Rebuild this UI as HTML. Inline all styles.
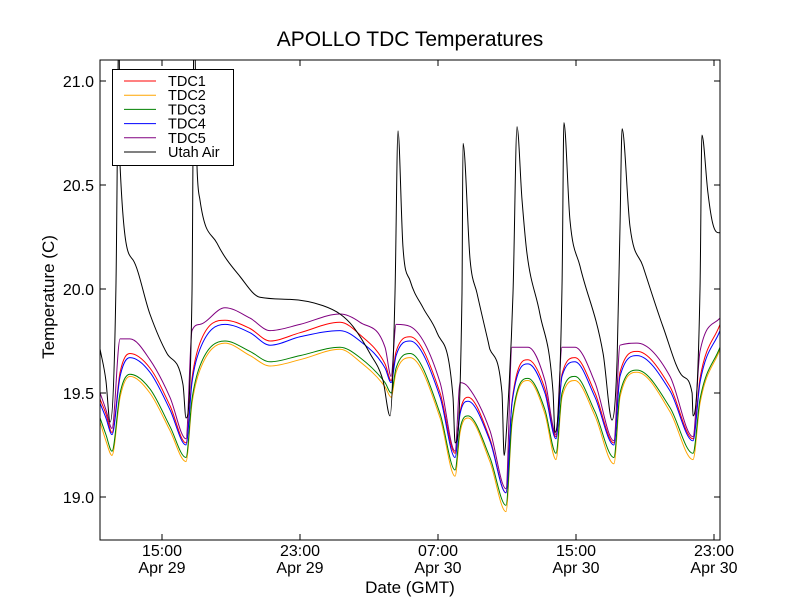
<!DOCTYPE html>
<html><head><meta charset="utf-8"><style>
body{margin:0;background:#fff;}
svg{display:block;font-family:"Liberation Sans","DejaVu Sans",sans-serif;}
</style></head><body>
<svg id="chart" width="800" height="600">
<rect width="800" height="600" fill="#fff"/>
<defs><clipPath id="clip"><rect x="100" y="60" width="620" height="480"/></clipPath></defs>
<text x="410" y="46" text-anchor="middle" font-size="21">APOLLO TDC Temperatures</text>
<g id="plot" clip-path="url(#clip)"></g>
<g id="axes"></g>
<rect x="100" y="60" width="620" height="480" fill="none" stroke="#000" stroke-width="1"/>
<text x="410" y="593" text-anchor="middle" font-size="17">Date (GMT)</text>
<text x="54" y="297" text-anchor="middle" font-size="17" transform="rotate(-90 54 297)">Temperature (C)</text>
<g id="legend"></g>
</svg>
<script>
const times=[11.41,11.75,12.10,12.57,13.14,14.30,15.46,16.39,16.74,17.20,18.65,20.10,21.26,23.00,25.32,26.48,27.93,28.28,28.57,29.38,31.12,31.99,32.28,32.74,34.01,34.94,35.29,36.22,37.20,37.84,38.19,38.94,40.10,41.20,41.55,42.54,44.45,45.78,46.19,47.35];
const tdc1=[19.47,19.40,19.31,19.60,19.69,19.62,19.44,19.26,19.57,19.74,19.85,19.81,19.75,19.79,19.84,19.78,19.64,19.56,19.70,19.77,19.50,19.21,19.41,19.48,19.28,19.02,19.46,19.66,19.52,19.29,19.59,19.67,19.50,19.26,19.60,19.70,19.53,19.28,19.57,19.83];
const tdc2=[19.36,19.27,19.20,19.48,19.58,19.50,19.32,19.17,19.45,19.61,19.74,19.68,19.63,19.66,19.71,19.65,19.53,19.48,19.60,19.67,19.38,19.10,19.31,19.38,19.17,18.93,19.35,19.56,19.40,19.18,19.48,19.56,19.39,19.16,19.48,19.60,19.41,19.18,19.45,19.71];
const tdc3=[19.38,19.30,19.22,19.50,19.59,19.52,19.34,19.19,19.47,19.63,19.75,19.70,19.65,19.68,19.72,19.67,19.55,19.50,19.62,19.69,19.40,19.13,19.33,19.39,19.19,18.96,19.37,19.57,19.42,19.21,19.50,19.58,19.41,19.19,19.50,19.61,19.43,19.21,19.47,19.72];
const tdc4=[19.45,19.38,19.30,19.58,19.67,19.60,19.42,19.25,19.55,19.71,19.83,19.79,19.73,19.77,19.80,19.75,19.62,19.55,19.68,19.75,19.48,19.19,19.40,19.46,19.27,19.02,19.45,19.64,19.50,19.28,19.58,19.65,19.48,19.25,19.58,19.68,19.51,19.27,19.55,19.80];
const tdc5=[19.50,19.42,19.33,19.76,19.76,19.66,19.48,19.28,19.80,19.83,19.91,19.86,19.80,19.83,19.88,19.84,19.72,19.58,19.83,19.82,19.55,19.22,19.55,19.53,19.32,19.04,19.72,19.72,19.56,19.30,19.72,19.72,19.55,19.27,19.73,19.74,19.58,19.29,19.70,19.86];
const airTimes=[11.41,11.75,11.99,12.33,12.51,12.57,13.32,14.30,15.29,16.22,16.39,16.74,16.86,17.03,17.20,18.19,19.52,20.68,22.42,24.33,25.32,26.07,27.06,27.81,28.22,28.51,28.68,28.97,29.38,30.13,30.94,31.87,31.99,32.39,32.45,32.86,33.26,33.90,34.01,34.71,34.83,35.00,35.35,35.58,35.87,36.16,36.91,37.67,37.78,38.19,38.30,38.65,39.23,40.57,41.09,41.38,41.55,41.67,42.13,42.88,44.04,45.20,45.73,45.78,46.19,46.30,46.65,46.94,47.29,47.35];
const air=[19.71,19.56,19.36,20.00,21.30,20.59,20.14,19.88,19.69,19.54,19.38,19.98,21.30,20.59,20.43,20.22,20.06,19.96,19.95,19.92,19.88,19.82,19.69,19.56,19.39,19.98,20.76,20.20,20.04,19.91,19.79,19.48,19.26,19.98,20.70,20.14,19.98,19.75,19.71,19.50,19.20,19.36,19.98,20.78,20.43,20.17,19.88,19.50,19.31,20.01,20.80,20.33,20.11,19.69,19.37,19.66,20.30,20.77,20.30,20.11,19.82,19.58,19.50,19.39,20.00,20.74,20.46,20.31,20.27,20.27];
const yTicks=[19.0,19.5,20.0,20.5,21.0];
const yTickLabels=["19.0","19.5","20.0","20.5","21.0"];
const xTicks=[15,23,31,39,47];
const xTickLabels1=["15:00","23:00","07:00","15:00","23:00"];
const xTickLabels2=["Apr 29","Apr 29","Apr 30","Apr 30","Apr 30"];
const seriesNames=["TDC1","TDC2","TDC3","TDC4","TDC5","Utah Air"];
const seriesColors=["#ff0000","#ffa500","#008000","#0000ff","#800080","#000000"];

const NS="http://www.w3.org/2000/svg";
function xs(t){return 100+(t-11.406)*17.25;}
function ys(v){return 497-(v-19)*208;}
const plot=document.getElementById('plot');
const axes=document.getElementById('axes');
function mk(tag,attrs,parent){const e=document.createElementNS(NS,tag);for(const k in attrs)e.setAttribute(k,attrs[k]);parent.appendChild(e);return e;}
function monoPath(px,py){
  const n=px.length,d=[],m=[];
  for(let i=0;i<n-1;i++)d.push((py[i+1]-py[i])/(px[i+1]-px[i]));
  m[0]=d[0];m[n-1]=d[n-2];
  for(let i=1;i<n-1;i++){m[i]=(d[i-1]*d[i]<=0)?0:(d[i-1]+d[i])/2;}
  for(let i=0;i<n-1;i++){
    if(d[i]===0){m[i]=0;m[i+1]=0;continue;}
    const a=m[i]/d[i],b=m[i+1]/d[i],s=a*a+b*b;
    if(s>9){const t=3/Math.sqrt(s);m[i]=t*a*d[i];m[i+1]=t*b*d[i];}
  }
  let p='M'+px[0].toFixed(1)+' '+py[0].toFixed(1);
  for(let i=0;i<n-1;i++){
    const h=(px[i+1]-px[i])/3;
    p+=' C'+(px[i]+h).toFixed(1)+' '+(py[i]+m[i]*h).toFixed(1)+' '+(px[i+1]-h).toFixed(1)+' '+(py[i+1]-m[i+1]*h).toFixed(1)+' '+px[i+1].toFixed(1)+' '+py[i+1].toFixed(1);
  }
  return p;
}
function drawLine(ts,vs,color,name){
  const d=monoPath(ts.map(xs),vs.map(ys));
  const p=mk('path',{d:d,fill:'none',stroke:color,'stroke-width':1},plot);
  
  
}
drawLine(times,tdc1,seriesColors[0],'tdc1-line');
drawLine(times,tdc2,seriesColors[1],'tdc2-line');
drawLine(times,tdc3,seriesColors[2],'tdc3-line');
drawLine(times,tdc4,seriesColors[3],'tdc4-line');
drawLine(times,tdc5,seriesColors[4],'tdc5-line');
drawLine(airTimes,air,seriesColors[5],'utah-air-line');

yTicks.forEach((v,i)=>{
  const y=ys(v);
  const t1=mk('line',{x1:100,x2:106,y1:y,y2:y,stroke:'#000'},axes);
  
  
  const t2=mk('line',{x1:714,x2:720,y1:y,y2:y,stroke:'#000'},axes);
  
  
  const tx=mk('text',{x:94,y:y+6,'text-anchor':'end','font-size':16},axes);
  tx.textContent=yTickLabels[i];
  
  
});
xTicks.forEach((t,i)=>{
  const x=xs(t);
  const a=mk('line',{x1:x,x2:x,y1:534,y2:540,stroke:'#000'},axes);
  
  
  const b=mk('line',{x1:x,x2:x,y1:60,y2:66,stroke:'#000'},axes);
  
  
  const l1=mk('text',{x:x,y:556,'text-anchor':'middle','font-size':16},axes);
  l1.textContent=xTickLabels1[i];
  
  
  const l2=mk('text',{x:x,y:573,'text-anchor':'middle','font-size':16},axes);
  l2.textContent=xTickLabels2[i];
  
  
});
const lg=document.getElementById('legend');
const box=mk('rect',{x:112.5,y:69.5,width:121,height:96,fill:'#fff',stroke:'#000'},lg);


seriesNames.forEach((n,i)=>{
  const y=81+i*14.2;
  const ln=mk('line',{x1:124,x2:156,y1:y,y2:y,stroke:seriesColors[i],'stroke-width':1},lg);
  
  
  const tx=mk('text',{x:168,y:y+5,'font-size':14.5},lg);
  tx.textContent=n;
  
  
});
</script>
</body></html>
